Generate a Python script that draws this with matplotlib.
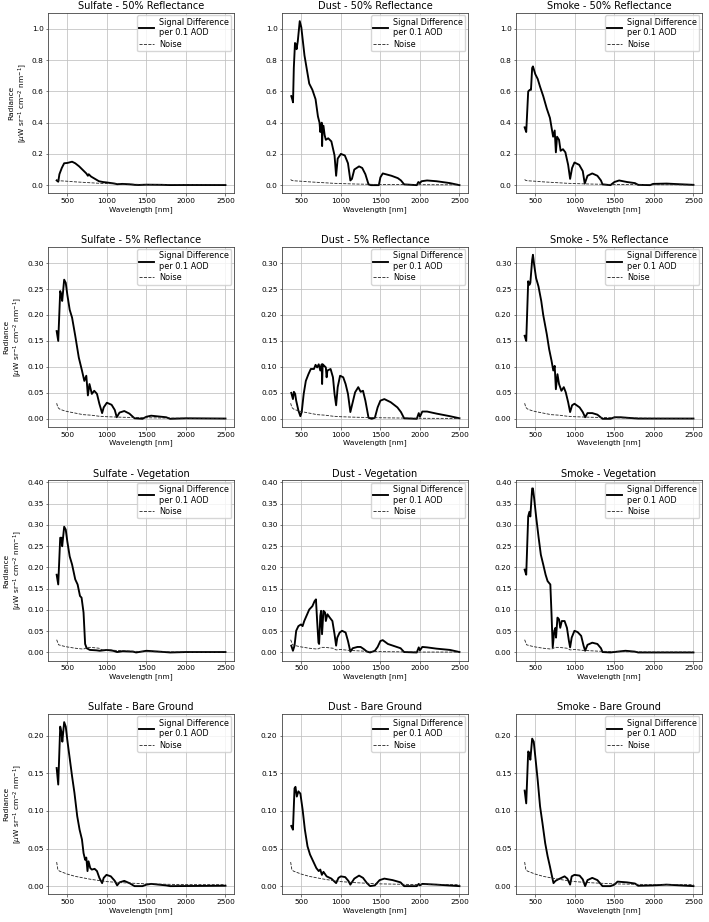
import matplotlib
matplotlib.use("Agg")
import matplotlib.pyplot as plt

# ---- data (wavelength nm, radiance uW sr-1 cm-2 nm-1) ----
aerosols = ["Sulfate", "Dust", "Smoke"]
surfaces = ["50% Reflectance", "5% Reflectance", "Vegetation", "Bare Ground"]

# 50% reflectance
sulfate_50_wl = [365, 385, 400, 430, 460, 500, 560, 600, 650, 700, 740, 760, 770, 800, 850,
                 900, 950, 1000, 1100, 1130, 1200, 1300, 1350, 1400, 1500, 1700, 1800, 2000, 2500]
sulfate_50_sig = [0.03, 0.022, 0.07, 0.11, 0.14, 0.142, 0.15, 0.14, 0.12, 0.095, 0.075, 0.06, 0.07, 0.055, 0.04,
                  0.025, 0.02, 0.017, 0.01, 0.006, 0.008, 0.005, 0.002, 0.001, 0.003, 0.002, 0.0005, 0.001, 0.0005]

dust_50_wl = [373, 385, 395, 405, 420, 432, 440, 455, 480, 500, 540, 600, 640, 680, 710,
              730, 740, 750, 758, 763, 770, 780, 795, 810, 840, 880, 920, 940, 960, 1000,
              1050, 1090, 1120, 1140, 1170, 1230, 1270, 1310, 1350, 1380, 1480, 1500, 1530, 1640, 1720,
              1760, 1800, 1960, 1980, 2000, 2020, 2090, 2210, 2380, 2500]
dust_50_sig = [0.57, 0.55, 0.53, 0.75, 0.91, 0.90, 0.87, 0.92, 1.05, 1.01, 0.83, 0.65, 0.61, 0.55, 0.44,
               0.40, 0.34, 0.38, 0.40, 0.25, 0.38, 0.38, 0.32, 0.29, 0.30, 0.28, 0.19, 0.06, 0.17, 0.20,
               0.19, 0.14, 0.03, 0.04, 0.10, 0.12, 0.11, 0.07, 0.005, 0.0, 0.0, 0.05, 0.075, 0.06, 0.045,
               0.03, 0.005, 0.0, 0.02, 0.013, 0.025, 0.03, 0.025, 0.013, 0.0]

smoke_50_wl = [365, 385, 410, 430, 445, 460, 470, 500, 530, 560, 600, 645, 685, 705, 725,
               745, 760, 775, 800, 820, 850, 880, 915, 940, 965, 995, 1055, 1100, 1125, 1160,
               1220, 1285, 1330, 1350, 1450, 1500, 1560, 1660, 1760, 1800, 1950, 1990, 2160, 2320, 2500]
smoke_50_sig = [0.37, 0.34, 0.60, 0.61, 0.61, 0.75, 0.76, 0.71, 0.68, 0.63, 0.57, 0.49, 0.43, 0.37, 0.31,
                0.35, 0.21, 0.31, 0.29, 0.22, 0.23, 0.21, 0.13, 0.04, 0.11, 0.145, 0.13, 0.09, 0.01, 0.06,
                0.075, 0.06, 0.03, 0.005, 0.0, 0.02, 0.03, 0.02, 0.013, 0.002, 0.0, 0.008, 0.01, 0.006, 0.002]

noise_50_wl = [365, 380, 400, 500, 600, 700, 800, 900, 1000, 1200, 1400, 1600, 2000, 2500]
noise_50 = [0.036, 0.03, 0.028, 0.025, 0.021, 0.018, 0.015, 0.012, 0.01, 0.007, 0.005, 0.004, 0.003, 0.002]

# 5% reflectance
sulfate_5_wl = [365, 385, 410, 425, 435, 460, 480, 500, 530, 560, 600, 645, 685, 715, 740,
                760, 780, 810, 840, 875, 905, 940, 960, 1000, 1060, 1100, 1125, 1160, 1220, 1285,
                1350, 1450, 1500, 1560, 1750, 1800, 2000, 2500]
sulfate_5_sig = [0.169, 0.15, 0.246, 0.239, 0.227, 0.268, 0.262, 0.239, 0.21, 0.195, 0.16, 0.118, 0.093, 0.073, 0.083,
                 0.045, 0.067, 0.048, 0.054, 0.048, 0.029, 0.011, 0.022, 0.031, 0.027, 0.017, 0.003, 0.012, 0.015, 0.01,
                 0.001, 0.0, 0.004, 0.006, 0.003, 0.0, 0.001, 0.0005]

dust_5_wl = [373, 394, 406, 422, 435, 463, 488, 505, 530, 557, 590, 620, 660, 680, 700,
             720, 740, 758, 763, 770, 790, 810, 820, 830, 870, 900, 920, 940, 960, 990,
             1030, 1060, 1090, 1120, 1150, 1180, 1220, 1250, 1280, 1310, 1350, 1390, 1430, 1465, 1500,
             1550, 1630, 1715, 1760, 1800, 1960, 1985, 2000, 2030, 2090, 2210, 2380, 2500]
dust_5_sig = [0.05, 0.038, 0.052, 0.048, 0.035, 0.016, 0.005, 0.013, 0.048, 0.073, 0.086, 0.096, 0.096, 0.104, 0.099,
              0.105, 0.093, 0.105, 0.067, 0.105, 0.102, 0.099, 0.08, 0.093, 0.096, 0.08, 0.048, 0.026, 0.061, 0.083,
              0.08, 0.067, 0.048, 0.013, 0.032, 0.051, 0.061, 0.052, 0.054, 0.035, 0.002, 0.0, 0.002, 0.022, 0.035,
              0.038, 0.032, 0.022, 0.013, 0.001, 0.0, 0.011, 0.004, 0.014, 0.014, 0.01, 0.005, 0.001]

smoke_5_wl = [365, 385, 410, 425, 437, 460, 470, 485, 510, 540, 575, 600, 645, 675, 705,
              727, 745, 760, 780, 800, 830, 860, 885, 915, 940, 965, 995, 1060, 1100, 1130,
              1160, 1220, 1285, 1350, 1450, 1500, 1580, 1750, 1800, 2500]
smoke_5_sig = [0.16, 0.15, 0.265, 0.258, 0.262, 0.306, 0.316, 0.297, 0.271, 0.255, 0.227, 0.20, 0.163, 0.134, 0.112,
               0.093, 0.102, 0.057, 0.086, 0.067, 0.054, 0.061, 0.051, 0.032, 0.013, 0.026, 0.029, 0.022, 0.013, 0.003,
               0.011, 0.011, 0.008, 0.0, 0.0, 0.003, 0.003, 0.001, 0.0005, 0.0005]

noise_5_wl = [365, 380, 400, 450, 500, 600, 700, 800, 900, 1000, 1200, 1500, 2000, 2500]
noise_5 = [0.03, 0.022, 0.019, 0.016, 0.014, 0.011, 0.008, 0.007, 0.005, 0.004, 0.003, 0.002, 0.001, 0.0007]

# vegetation
sulfate_veg_wl = [365, 385, 410, 425, 435, 460, 480, 500, 530, 560, 600, 630, 660, 680, 705,
                  725, 745, 785, 870, 910, 1000, 1080, 1130, 1200, 1330, 1370, 1500, 1660, 1800, 2000, 2500]
sulfate_veg_sig = [0.183, 0.16, 0.27, 0.27, 0.25, 0.296, 0.289, 0.261, 0.226, 0.207, 0.172, 0.16, 0.133, 0.129, 0.094,
                   0.02, 0.01, 0.006, 0.005, 0.004, 0.006, 0.004, 0.001, 0.003, 0.002, 0.0, 0.004, 0.002, 0.0, 0.001, 0.001]

dust_veg_wl = [373, 394, 414, 435, 463, 496, 516, 537, 565, 600, 640, 668, 685, 700, 717,
               725, 740, 750, 762, 780, 800, 810, 830, 860, 893, 920, 940, 955, 985, 1015,
               1060, 1090, 1120, 1150, 1210, 1250, 1290, 1330, 1370, 1430, 1465, 1500, 1530, 1595, 1675,
               1755, 1800, 1960, 1985, 2000, 2030, 2090, 2210, 2380, 2500]
dust_veg_sig = [0.016, 0.004, 0.016, 0.051, 0.062, 0.066, 0.062, 0.074, 0.086, 0.101, 0.109, 0.121, 0.125, 0.074, 0.023,
                0.02, 0.086, 0.098, 0.043, 0.098, 0.094, 0.074, 0.09, 0.082, 0.074, 0.043, 0.016, 0.035, 0.047, 0.051,
                0.047, 0.027, 0.002, 0.01, 0.013, 0.013, 0.008, 0.002, 0.0, 0.004, 0.013, 0.027, 0.029, 0.02, 0.015,
                0.01, 0.001, 0.0, 0.012, 0.005, 0.013, 0.012, 0.009, 0.006, 0.001]

smoke_veg_wl = [365, 385, 410, 425, 437, 460, 470, 485, 510, 540, 570, 600, 630, 655, 672,
                690, 705, 720, 740, 755, 762, 780, 800, 815, 835, 870, 900, 925, 940, 960,
                995, 1035, 1080, 1110, 1130, 1160, 1220, 1285, 1330, 1350, 1450, 1540, 1640, 1760, 1800, 2500]
smoke_veg_sig = [0.195, 0.183, 0.32, 0.331, 0.32, 0.386, 0.386, 0.363, 0.32, 0.273, 0.23, 0.207, 0.183, 0.168, 0.164,
                 0.16, 0.09, 0.012, 0.051, 0.058, 0.035, 0.082, 0.078, 0.058, 0.074, 0.074, 0.058, 0.027, 0.012, 0.035,
                 0.051, 0.048, 0.039, 0.016, 0.004, 0.018, 0.023, 0.02, 0.01, 0.001, 0.0, 0.002, 0.004, 0.002, 0.0, 0.0]

noise_veg_wl = [365, 390, 450, 500, 600, 700, 720, 750, 800, 900, 940, 1000, 1100, 1200, 1300, 1500, 2000, 2500]
noise_veg = [0.03, 0.018, 0.015, 0.013, 0.01, 0.008, 0.009, 0.012, 0.012, 0.01, 0.006, 0.007, 0.005, 0.004, 0.003,
             0.002, 0.001, 0.001]

# bare ground
sulfate_bare_wl = [365, 385, 410, 425, 437, 460, 480, 500, 530, 560, 590, 625, 655, 685, 705,
                   725, 740, 755, 768, 790, 810, 845, 875, 905, 940, 960, 995, 1050, 1100, 1130,
                   1160, 1220, 1285, 1350, 1450, 1500, 1560, 1750, 1800, 2500]
sulfate_bare_sig = [0.157, 0.135, 0.212, 0.205, 0.192, 0.218, 0.212, 0.194, 0.17, 0.146, 0.124, 0.093, 0.075, 0.062, 0.044,
                    0.035, 0.038, 0.02, 0.033, 0.024, 0.022, 0.023, 0.02, 0.011, 0.004, 0.011, 0.015, 0.013, 0.007, 0.001,
                    0.005, 0.007, 0.004, 0.0, 0.0, 0.002, 0.003, 0.001, 0.0, 0.0005]

dust_bare_wl = [373, 394, 414, 426, 443, 463, 488, 516, 545, 578, 610, 650, 690, 720, 740,
                760, 780, 820, 880, 940, 970, 1000, 1055, 1095, 1120, 1170, 1230, 1280, 1330, 1370,
                1430, 1490, 1550, 1655, 1755, 1800, 1960, 1985, 2000, 2030, 2210, 2500]
dust_bare_sig = [0.08, 0.075, 0.13, 0.132, 0.119, 0.126, 0.123, 0.102, 0.075, 0.053, 0.042, 0.033, 0.024, 0.02, 0.022,
                 0.015, 0.019, 0.013, 0.01, 0.004, 0.011, 0.013, 0.012, 0.007, 0.002, 0.01, 0.014, 0.011, 0.004, 0.0,
                 0.001, 0.008, 0.01, 0.008, 0.005, 0.0, 0.0, 0.003, 0.001, 0.003, 0.002, 0.0]

smoke_bare_wl = [365, 385, 410, 425, 437, 460, 480, 500, 530, 560, 590, 625, 655, 685, 715,
                 730, 755, 790, 830, 870, 905, 940, 960, 995, 1060, 1100, 1130, 1160, 1220, 1285,
                 1350, 1450, 1500, 1540, 1660, 1760, 1800, 1990, 2160, 2500]
smoke_bare_sig = [0.127, 0.11, 0.179, 0.177, 0.168, 0.196, 0.192, 0.172, 0.141, 0.106, 0.084, 0.057, 0.04, 0.026, 0.011,
                  0.004, 0.007, 0.009, 0.011, 0.013, 0.01, 0.002, 0.013, 0.015, 0.014, 0.009, 0.0, 0.008, 0.011, 0.008,
                  0.0, 0.0, 0.002, 0.006, 0.005, 0.0035, 0.0005, 0.001, 0.002, 0.0]

noise_bare_wl = [365, 380, 400, 500, 600, 700, 800, 900, 1000, 1200, 1500, 2000, 2500]
noise_bare = [0.032, 0.022, 0.02, 0.016, 0.013, 0.011, 0.009, 0.0075, 0.006, 0.0045, 0.003, 0.002, 0.002]

signals = [
  [(sulfate_50_wl, sulfate_50_sig), (dust_50_wl, dust_50_sig), (smoke_50_wl, smoke_50_sig)],
  [(sulfate_5_wl, sulfate_5_sig), (dust_5_wl, dust_5_sig), (smoke_5_wl, smoke_5_sig)],
  [(sulfate_veg_wl, sulfate_veg_sig), (dust_veg_wl, dust_veg_sig), (smoke_veg_wl, smoke_veg_sig)],
  [(sulfate_bare_wl, sulfate_bare_sig), (dust_bare_wl, dust_bare_sig), (smoke_bare_wl, smoke_bare_sig)],
]
noises = [(noise_50_wl, noise_50), (noise_5_wl, noise_5),
          (noise_veg_wl, noise_veg), (noise_bare_wl, noise_bare)]

# ---- plot ----
fs_tick = 5.3
fs_legend = 5.9
fs_title = 7.0

fig, axes = plt.subplots(4, 3, figsize=(7.09, 9.22), dpi=100, sharey='row')
fig.subplots_adjust(left=0.068, right=0.99, top=0.986, bottom=0.030,
                    wspace=0.26, hspace=0.295)

for i, surface in enumerate(surfaces):
  nwl, nval = noises[i]
  for j, aerosol in enumerate(aerosols):
    ax = axes[i, j]
    wl, sig = signals[i][j]
    ax.plot(wl, sig, color='black', lw=1.35, label='Signal Difference\nper 0.1 AOD')
    ax.plot(nwl, nval, color='#222222', lw=0.6, ls='--', label='Noise')
    ax.set_title('{0} - {1}'.format(aerosol, surface), fontsize=fs_title, pad=2.5)
    ax.set_xlabel('Wavelength [nm]', fontsize=fs_tick, labelpad=1.5)
    if j == 0:
      ax.set_ylabel('Radiance\n[$\\mu$W sr$^{-1}$ cm$^{-2}$ nm$^{-1}$]',
                    fontsize=fs_tick, labelpad=2)
    ax.grid(True, lw=0.55, color='#c0c0c0')
    ax.tick_params(labelleft=True, labelsize=fs_tick, length=1.8, width=0.5, pad=1.5,
                   color='#444444')
    for sp in ax.spines.values():
      sp.set_linewidth(0.6)
      sp.set_color('#444444')
    ax.legend(loc='upper right', fontsize=fs_legend, handlelength=1.8,
              borderpad=0.3, labelspacing=0.3, handletextpad=0.6, borderaxespad=0.3)

fig.savefig('out.png', dpi=100)
